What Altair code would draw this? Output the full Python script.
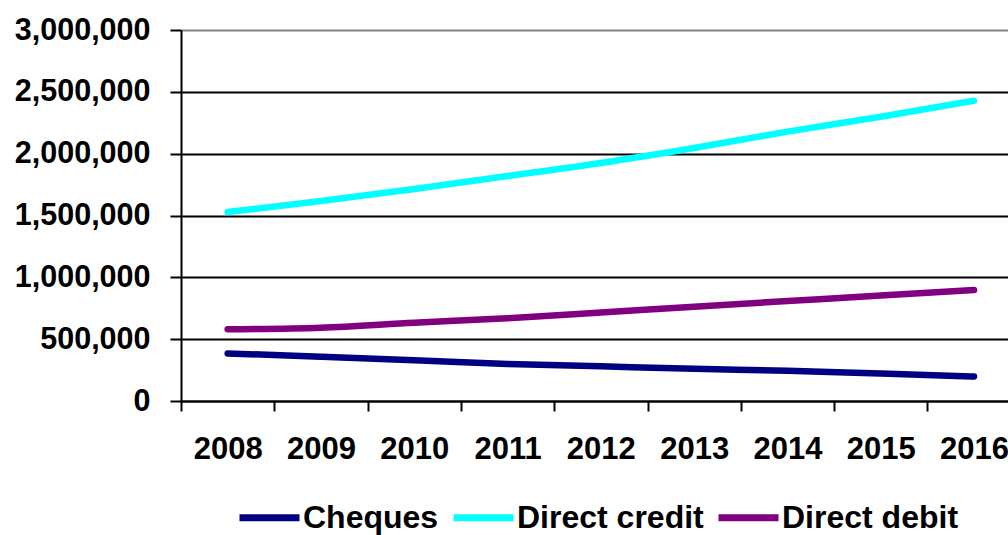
import altair as alt
import pandas as pd

years = [2008, 2009, 2010, 2011, 2012, 2013, 2014, 2015, 2016]
series = ["Cheques", "Direct credit", "Direct debit"]
colors = ["#000080", "#00FFFF", "#800080"]

cheques = [385000, 358000, 330000, 300000, 280000, 260000, 245000, 222000, 198000]
direct_credit = [1528000, 1617000, 1714000, 1819000, 1925000, 2046000, 2178000, 2299000, 2428000]
direct_debit = [580000, 593000, 633000, 669000, 715000, 763000, 808000, 853000, 897000]

y_ticks = [0, 500000, 1000000, 1500000, 2000000, 2500000, 3000000]

rows = []
for name, vals in zip(series, [cheques, direct_credit, direct_debit]):
    for yr, v in zip(years, vals):
        rows.append({"Year": yr, "Series": name, "Value": v})
df = pd.DataFrame(rows)

FONT = "Liberation Sans"
STEP = 93.3
WIDTH = 827
HEIGHT = 371
x_domain = [years[0] - 0.5, years[0] - 0.5 + WIDTH / STEP]
boundaries = [yr - 0.5 for yr in years]

chart = alt.Chart(df).mark_line(
    strokeWidth=6.5, strokeCap="round", strokeJoin="round", interpolate="monotone"
).encode(
    x=alt.X(
        "Year:Q",
        scale=alt.Scale(domain=x_domain, nice=False, zero=False),
        axis=alt.Axis(
            values=boundaries,
            labelExpr="toString(datum.value + 0.5)",
            labelOffset=STEP / 2,
            labelFlush=False,
            labelOverlap=False,
            labelBound=False,
            tickSize=10,
            tickWidth=2,
            tickColor="black",
            domainColor="black",
            domainWidth=2,
            labelFont=FONT,
            labelFontSize=31,
            labelFontWeight="bold",
            labelColor="black",
            labelPadding=23,
            grid=False,
            title=None,
        ),
    ),
    y=alt.Y(
        "Value:Q",
        scale=alt.Scale(domain=[0, 3000000], nice=False),
        axis=alt.Axis(
            values=y_ticks,
            format=",d",
            tickSize=11,
            tickWidth=2,
            tickColor="black",
            domainColor="black",
            domainWidth=2,
            labelFont=FONT,
            labelFontSize=30.5,
            labelFontWeight="bold",
            labelColor="black",
            labelPadding=20,
            grid=True,
            gridColor={"condition": {"test": "datum.value >= 3000000", "value": "#808080"}, "value": "black"},
            gridWidth=2,
            title=None,
        ),
    ),
    color=alt.Color(
        "Series:N",
        scale=alt.Scale(domain=series, range=colors),
        legend=alt.Legend(
            orient="none",
            legendX=55,
            legendY=454,
            direction="horizontal",
            title=None,
            symbolType="stroke",
            symbolSize=3600,
            symbolStrokeWidth=7,
            labelFont=FONT,
            labelFontSize=32,
            labelFontWeight="bold",
            labelColor="black",
            labelOffset=0,
            labelLimit=400,
            columnPadding=0,
        ),
    ),
).properties(
    width=WIDTH,
    height=HEIGHT,
    autosize=alt.AutoSizeParams(type="none"),
    padding={"left": 181, "top": 30, "right": 0, "bottom": 134},
).configure_view(
    fill="#C0C0C0", stroke="#808080", strokeWidth=2
).configure(background="white")

chart.save("out.html", embed_options={"renderer": "svg", "actions": False})
